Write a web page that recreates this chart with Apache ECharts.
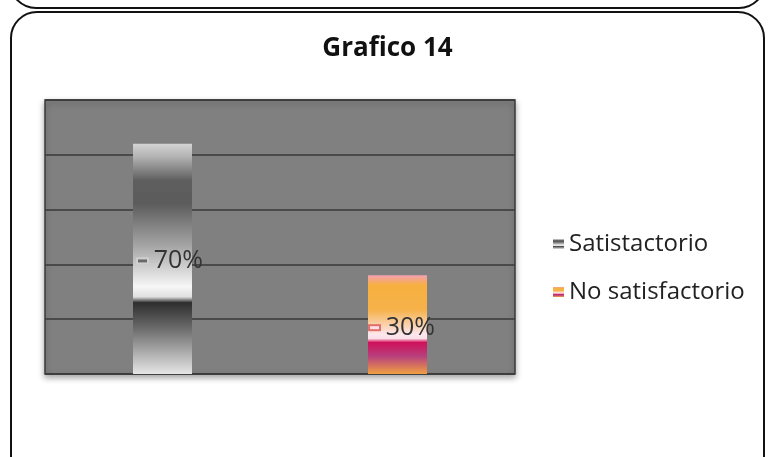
<!DOCTYPE html>
<html>
<head>
<meta charset="utf-8">
<script src="https://cdn.jsdelivr.net/npm/echarts@6/dist/echarts.min.js"></script>
<style>html,body{margin:0;padding:0;background:#fff;}#c{width:775px;height:457px;}</style>
</head>
<body>
<div id="c"></div>
<script>
var categories = ['Satistactorio', 'No satisfactorio'];
var seriesNames = ['Satistactorio', 'No satisfactorio'];
var satisfactorio = [70, '-'];
var noSatisfactorio = ['-', 30];
var titleText = 'Grafico 14';

var grayGrad = new echarts.graphic.LinearGradient(0, 0, 0, 1, [
  {offset: 0, color: '#d4d4d4'},
  {offset: 0.06, color: '#b0b0b0'},
  {offset: 0.16, color: '#5e5e5e'},
  {offset: 0.26, color: '#5c5c5c'},
  {offset: 0.45, color: '#a8a8a8'},
  {offset: 0.62, color: '#f6f6f6'},
  {offset: 0.665, color: '#e0e0e0'},
  {offset: 0.69, color: '#2e2e2e'},
  {offset: 0.8, color: '#6a6a6a'},
  {offset: 1, color: '#e6e6e6'}
]);
var warmGrad = new echarts.graphic.LinearGradient(0, 0, 0, 1, [
  {offset: 0, color: '#f4a0b0'},
  {offset: 0.1, color: '#f6b040'},
  {offset: 0.35, color: '#f6b24a'},
  {offset: 0.6, color: '#fde6ee'},
  {offset: 0.64, color: '#fbe0e8'},
  {offset: 0.68, color: '#d0105a'},
  {offset: 0.82, color: '#b8407e'},
  {offset: 1, color: '#f0a040'}
]);

var chart = echarts.init(document.getElementById('c'));
chart.setOption({
  animation: false,
  backgroundColor: '#ffffff',
  graphic: [
    {type: 'rect', shape: {x: 10, y: -440, width: 755, height: 448, r: 26}, style: {fill: 'none', stroke: '#111', lineWidth: 2}, z: -1},
    {type: 'rect', shape: {x: 11, y: 12, width: 753, height: 470, r: 26}, style: {fill: '#fff', stroke: '#111', lineWidth: 2}, z: -1}
  ],
  title: {
    text: titleText, left: 'center', top: 31,
    textStyle: {fontFamily: 'Open Sans', fontSize: 26, fontWeight: 'bold', color: '#111'}
  },
  legend: {
    orient: 'vertical', left: 548, top: 227, itemGap: 24,
    itemWidth: 11, itemHeight: 10, icon: 'rect',
    textStyle: {fontFamily: 'Open Sans', fontSize: 24, color: '#222'},
    data: seriesNames
  },
  grid: {
    left: 45, top: 100, width: 470, height: 274, show: true,
    backgroundColor: '#808080', borderColor: '#3a3a3a', borderWidth: 1.5,
    shadowBlur: 6, shadowColor: 'rgba(0,0,0,0.35)', shadowOffsetY: 3
  },
  xAxis: {
    type: 'category', data: categories,
    axisLine: {show: false}, axisTick: {show: false}, axisLabel: {show: false}
  },
  yAxis: {
    type: 'value', min: 0, max: 83.3333, interval: 16.66666,
    axisLabel: {show: false}, axisLine: {show: false}, axisTick: {show: false},
    splitLine: {lineStyle: {color: '#383838', width: 1.5}}
  },
  series: [
    {
      name: seriesNames[0], type: 'bar', data: satisfactorio, barWidth: 59, barGap: '-100%',
      itemStyle: {color: grayGrad},
      label: {
        show: true, position: 'inside', offset: [8, 2],
        formatter: '{i|}  {t|{c}%}',
        rich: {
          i: {width: 9, height: 3, backgroundColor: '#6a6a6a', borderColor: '#d0d0d0', borderWidth: 2},
          t: {fontFamily: 'Open Sans', fontSize: 25, color: '#333'}
        }
      }
    },
    {
      name: seriesNames[1], type: 'bar', data: noSatisfactorio, barWidth: 59, barGap: '-100%',
      itemStyle: {color: warmGrad},
      label: {
        show: true, position: 'inside', offset: [5, 3],
        formatter: '{i|}  {t|{c}%}',
        rich: {
          i: {width: 9, height: 3, backgroundColor: '#fbe0e8', borderColor: '#e0706a', borderWidth: 2},
          t: {fontFamily: 'Open Sans', fontSize: 25, color: '#333'}
        }
      }
    }
  ]
});
</script>
</body>
</html>
